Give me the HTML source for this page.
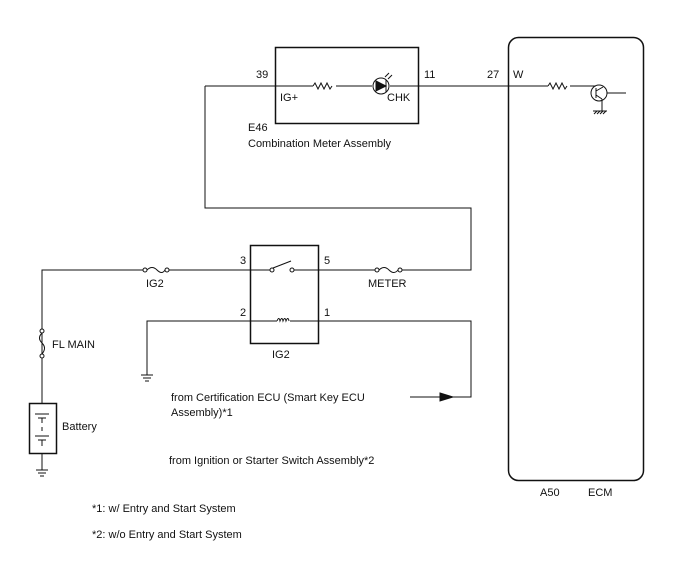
<!DOCTYPE html>
<html><head><style>
body{margin:0;background:#fff}
svg text{font-family:"Liberation Sans",sans-serif;font-size:11px;fill:#111}
</style></head><body>
<svg width="688" height="560" xmlns="http://www.w3.org/2000/svg">
<g fill="none" stroke="#111" stroke-width="1">
<rect x="275.5" y="47.5" width="143" height="76" stroke-width="1.5"/>
<rect x="508.5" y="37.5" width="135" height="443" rx="10" stroke-width="1.5"/>
<path d="M205 86 H313 M336 86 H372 M390 86 H548 M570 86 H591"/>
<path d="M313 86 l2 -3 l3 6 l3 -6 l3 6 l3 -6 l3 6 l2 -3"/>
<circle cx="381" cy="86" r="8"/>
<path d="M376 81 L386 86 L376 91 Z" fill="#111"/>
<path d="M386 80 V92"/>
<path d="M385 77 l4 -4 M388 79 l4 -4"/>
<path d="M548 86 l2 -3 l3 6 l3 -6 l3 6 l3 -6 l3 6 l2 -3"/>
<circle cx="599" cy="93" r="8"/>
<path d="M591 86 H596 M596 88 V98 M596 91 L603 87 M596 95 L602 99 M607 93 H626 M602 99 V111 M593 111 H607 M594 114 l3 -3 M597 114 l3 -3 M600 114 l3 -3 M603 114 l3 -3"/>
<path d="M205 86 V208 H471 V270 H402"/>
<rect x="250.5" y="245.5" width="68" height="98" stroke-width="1.5"/>
<path d="M42 470 V270 H143 M169 270 H270 M294 270 H375"/>
<circle cx="272" cy="270" r="2"/><circle cx="292" cy="270" r="2"/>
<path d="M273 268 L291 261"/>
<circle cx="145" cy="270" r="2"/><circle cx="167" cy="270" r="2"/>
<path d="M147 270 q5 -5 10 0 q5 5 8 0"/>
<circle cx="377" cy="270" r="2"/><circle cx="400" cy="270" r="2"/>
<path d="M379 270 q5 -5 10 0 q5 5 9 0"/>
<circle cx="42" cy="331" r="2" fill="#fff"/><circle cx="42" cy="356" r="2" fill="#fff"/>
<path d="M42 333 q-5 5 0 10 q5 5 0 11"/>
<path d="M147 375 V321 H277 M290 321 H471 V397 H410"/>
<path d="M277 321 q2 -5 3 0 q2 -5 3 0 q2 -5 3 0 q2 -5 3 0"/>
<path d="M440 393 L453 397 L440 401 Z" fill="#111"/>
<path d="M141 375 H153 M143 378 H151 M145 381 H149"/>
<path d="M36 470 H48 M38 473 H46 M40 476 H44"/>
<rect x="29.5" y="403.5" width="27" height="50" stroke-width="1.5" fill="#fff"/>
<path d="M35 414 H49 M38 418 H46 M42 418 V423 M42 427 V431 M35 436 H49 M38 440 H46 M42 440 V446"/>
</g>
<text x="256" y="78">39</text>
<text x="424" y="78">11</text>
<text x="487" y="78">27</text>
<text x="513" y="78">W</text>
<text x="280" y="101">IG+</text>
<text x="387" y="101">CHK</text>
<text x="248" y="131">E46</text>
<text x="248" y="147">Combination Meter Assembly</text>
<text x="240" y="264">3</text>
<text x="324" y="264">5</text>
<text x="146" y="287">IG2</text>
<text x="368" y="287">METER</text>
<text x="240" y="316">2</text>
<text x="324" y="316">1</text>
<text x="272" y="358">IG2</text>
<text x="52" y="348">FL MAIN</text>
<text x="62" y="430">Battery</text>
<text x="171" y="401">from Certification ECU (Smart Key ECU</text>
<text x="171" y="416">Assembly)*1</text>
<text x="169" y="464">from Ignition or Starter Switch Assembly*2</text>
<text x="540" y="496">A50</text>
<text x="588" y="496">ECM</text>
<text x="92" y="512">*1: w/ Entry and Start System</text>
<text x="92" y="538">*2: w/o Entry and Start System</text>
</svg>
</body></html>
